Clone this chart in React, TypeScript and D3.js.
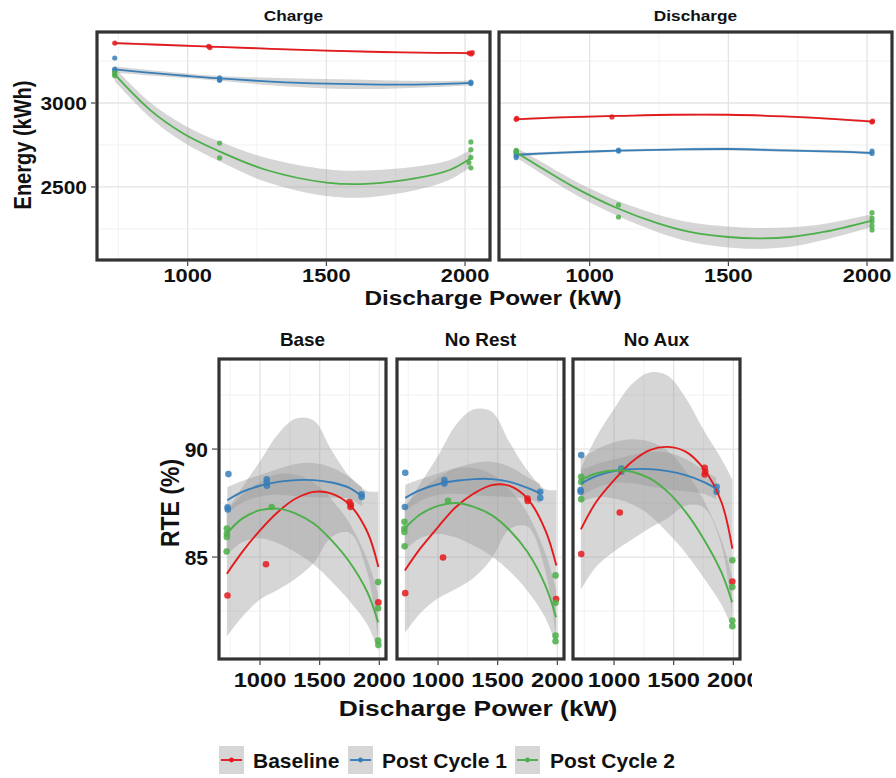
import React from "react";
import * as d3 from "d3";

const FONT = "'Liberation Sans', Arial, Helvetica, sans-serif";

type Pt = [number, number];

const seriesNames = ["Baseline", "Post Cycle 1", "Post Cycle 2"];
const seriesColors = ["#E41A1C", "#377EB8", "#4DAF4A"];

const energyFacets = ["Charge", "Discharge"];
const energyMajor = [2500, 3000];
const energyMinor = [2250, 2750, 3250];
const powerMajor = [1000, 1500, 2000];
const powerMinor = [750, 1250, 1750];
const rteFacets = ["Base", "No Rest", "No Aux"];
const rteMajor = [85, 90];
const rteMinor = [82.5, 87.5, 92.5];

// ---------- Energy: Charge ----------
const chargeBaselineObs: Pt[] = [[737, 3357], [1076, 3338], [1080, 3330], [2015, 3298], [2022, 3292], [2026, 3300]];
const chargeBaselineFitX = [737, 900, 1100, 1300, 1500, 1700, 1900, 2026];
const chargeBaselineFitY = [3357, 3347, 3335, 3323, 3312, 3304, 3299, 3297];
const chargeBaselineSE = [8, 6, 5, 5, 5, 5, 5, 7];

const chargeCycle1Obs: Pt[] = [[737, 3268], [737, 3202], [737, 3194], [1115, 3150], [1115, 3140], [1115, 3135], [2021, 3124], [2021, 3116]];
const chargeCycle1FitX = [737, 900, 1100, 1300, 1500, 1700, 1900, 2021];
const chargeCycle1FitY = [3200, 3175, 3148, 3128, 3115, 3110, 3113, 3120];
const chargeCycle1SE = [18, 16, 14, 22, 28, 26, 18, 14];

const chargeCycle2Obs: Pt[] = [[737, 3182], [737, 3172], [737, 3162], [1115, 2762], [1115, 2673], [2021, 2768], [2021, 2722], [2021, 2676], [2014, 2645], [2021, 2614]];
const chargeCycle2FitX = [737, 865, 984, 1104, 1284, 1500, 1644, 1824, 1944, 2021];
const chargeCycle2FitY = [3170, 2958, 2819, 2720, 2601, 2526, 2518, 2552, 2601, 2671];
const chargeCycle2SE = [40, 45, 52, 58, 72, 80, 80, 70, 58, 50];

// ---------- Energy: Discharge ----------
const dischargeBaselineObs: Pt[] = [[735, 2903], [737, 2908], [1080, 2917], [2018, 2887], [2020, 2893]];
const dischargeBaselineFitX = [735, 900, 1100, 1300, 1500, 1700, 1900, 2020];
const dischargeBaselineFitY = [2903, 2915, 2923, 2930, 2930, 2920, 2903, 2889];
const dischargeBaselineSE = [7, 6, 5, 5, 5, 5, 6, 8];

const dischargeCycle1Obs: Pt[] = [[735, 2712], [735, 2700], [735, 2688], [735, 2675], [1104, 2714], [1104, 2720], [2018, 2714], [2018, 2700]];
const dischargeCycle1FitX = [735, 900, 1100, 1300, 1500, 1700, 1900, 2018];
const dischargeCycle1FitY = [2692, 2705, 2716, 2723, 2726, 2718, 2710, 2702];
const dischargeCycle1SE = [10, 8, 7, 8, 9, 8, 8, 10];

const dischargeCycle2Obs: Pt[] = [[735, 2718], [735, 2708], [1104, 2393], [1104, 2321], [2018, 2347], [2018, 2314], [2018, 2294], [2018, 2268], [2018, 2244]];
const dischargeCycle2FitX = [735, 819, 940, 1100, 1241, 1361, 1500, 1602, 1723, 1843, 2018];
const dischargeCycle2FitY = [2705, 2621, 2502, 2373, 2286, 2232, 2202, 2194, 2202, 2232, 2300];
const dischargeCycle2SE = [30, 35, 40, 45, 52, 58, 62, 62, 58, 48, 38];

// ---------- RTE fits: shared sample positions ----------
const rteBaselineFitX = [722, 850, 1000, 1150, 1300, 1450, 1600, 1750, 1900, 1992];
const rteCycle1FitX = [725, 850, 1000, 1150, 1300, 1450, 1600, 1750, 1856];
const rteCycle2FitX = [720, 850, 1000, 1150, 1300, 1450, 1600, 1750, 1900, 1990];

// Base
const baseBaselineObs: Pt[] = [[727, 83.22], [1050, 84.67], [1750, 87.55], [1758, 87.32], [1762, 87.42], [1992, 82.9]];
const baseBaselineFit = [84.23, 85.23, 86.24, 87.09, 87.71, 88.02, 87.94, 87.43, 86.16, 84.54];
const baseBaselineSE = [2.9, 3.0, 3.2, 3.6, 3.7, 3.3, 2.0, 1.3, 1.9, 3.5];
const baseCycle1Obs: Pt[] = [[735, 88.84], [728, 87.3], [730, 87.2], [1056, 88.6], [1056, 88.45], [1058, 88.3], [1852, 87.9], [1852, 87.78]];
const baseCycle1Fit = [87.63, 88.02, 88.3, 88.48, 88.56, 88.56, 88.45, 88.2, 87.79];
const baseCycle1SE = [0.6, 0.5, 0.5, 0.6, 0.75, 0.8, 0.7, 0.5, 0.45];
const baseCycle2Obs: Pt[] = [[722, 86.32], [722, 86.08], [722, 85.93], [720, 85.26], [1098, 87.32], [1990, 83.84], [1990, 82.63], [1990, 81.13], [1992, 80.93]];
const baseCycle2Fit = [86.08, 86.78, 87.17, 87.24, 87.01, 86.55, 85.77, 84.77, 83.37, 81.98];
const baseCycle2SE = [1.0, 1.1, 1.3, 1.6, 1.8, 1.9, 1.9, 1.8, 1.5, 1.3];

// No Rest
const noRestBaselineObs: Pt[] = [[725, 83.33], [1042, 84.98], [1750, 87.71], [1752, 87.6], [1990, 83.06]];
const noRestBaselineFit = [84.38, 85.39, 86.39, 87.32, 87.94, 88.33, 88.3, 87.71, 86.24, 84.61];
const noRestBaselineSE = [2.9, 3.0, 3.3, 3.8, 3.9, 3.4, 2.0, 1.3, 1.9, 3.5];
const noRestCycle1Obs: Pt[] = [[725, 88.9], [722, 87.32], [1053, 88.56], [1053, 88.4], [1857, 88.02], [1857, 87.74]];
const noRestCycle1Fit = [87.74, 88.1, 88.37, 88.53, 88.61, 88.61, 88.48, 88.2, 87.94];
const noRestCycle1SE = [0.6, 0.5, 0.5, 0.6, 0.75, 0.8, 0.7, 0.5, 0.45];
const noRestCycle2Obs: Pt[] = [[718, 86.63], [718, 86.32], [718, 86.16], [720, 85.5], [1084, 87.6], [1985, 84.15], [1985, 82.88], [1985, 81.36], [1985, 81.1]];
const noRestCycle2Fit = [86.32, 86.97, 87.37, 87.5, 87.32, 86.94, 86.24, 85.23, 83.68, 82.21];
const noRestCycle2SE = [1.0, 1.1, 1.3, 1.6, 1.8, 1.9, 1.9, 1.8, 1.5, 1.3];

// No Aux
const noAuxBaselineObs: Pt[] = [[725, 85.14], [1048, 87.06], [1760, 89.13], [1760, 88.82], [1765, 88.95], [1992, 83.87]];
const noAuxBaselineFit = [86.28, 87.55, 88.56, 89.41, 89.95, 90.1, 89.88, 89.1, 87.55, 85.39];
const noAuxBaselineSE = [2.8, 3.0, 3.3, 3.6, 3.6, 3.3, 2.5, 1.8, 2.0, 3.2];
const noAuxCycle1Obs: Pt[] = [[725, 89.72], [720, 88.1], [720, 88.02], [1061, 88.95], [1061, 89.1], [1860, 88.25], [1860, 88.02]];
const noAuxCycle1Fit = [88.41, 88.75, 88.98, 89.07, 89.07, 88.98, 88.79, 88.48, 88.17];
const noAuxCycle1SE = [0.6, 0.55, 0.55, 0.65, 0.8, 0.85, 0.75, 0.55, 0.5];
const noAuxCycle2Obs: Pt[] = [[725, 88.72], [725, 88.48], [725, 87.68], [1065, 89.02], [1992, 84.85], [1992, 83.61], [1992, 82.06], [1992, 81.8]];
const noAuxCycle2Fit = [88.56, 88.87, 89.01, 88.95, 88.64, 88.02, 87.09, 85.85, 84.3, 82.91];
const noAuxCycle2SE = [1.0, 1.1, 1.3, 1.5, 1.7, 1.9, 1.9, 1.8, 1.5, 1.2];

interface Series { obs: Pt[]; fx: number[]; fy: number[]; se: number[]; }

const energySeries: Series[][] = [
  [
    { obs: chargeBaselineObs, fx: chargeBaselineFitX, fy: chargeBaselineFitY, se: chargeBaselineSE },
    { obs: chargeCycle1Obs, fx: chargeCycle1FitX, fy: chargeCycle1FitY, se: chargeCycle1SE },
    { obs: chargeCycle2Obs, fx: chargeCycle2FitX, fy: chargeCycle2FitY, se: chargeCycle2SE },
  ],
  [
    { obs: dischargeBaselineObs, fx: dischargeBaselineFitX, fy: dischargeBaselineFitY, se: dischargeBaselineSE },
    { obs: dischargeCycle1Obs, fx: dischargeCycle1FitX, fy: dischargeCycle1FitY, se: dischargeCycle1SE },
    { obs: dischargeCycle2Obs, fx: dischargeCycle2FitX, fy: dischargeCycle2FitY, se: dischargeCycle2SE },
  ],
];

const rteSeries: Series[][] = [
  [
    { obs: baseBaselineObs, fx: rteBaselineFitX, fy: baseBaselineFit, se: baseBaselineSE },
    { obs: baseCycle1Obs, fx: rteCycle1FitX, fy: baseCycle1Fit, se: baseCycle1SE },
    { obs: baseCycle2Obs, fx: rteCycle2FitX, fy: baseCycle2Fit, se: baseCycle2SE },
  ],
  [
    { obs: noRestBaselineObs, fx: rteBaselineFitX, fy: noRestBaselineFit, se: noRestBaselineSE },
    { obs: noRestCycle1Obs, fx: rteCycle1FitX, fy: noRestCycle1Fit, se: noRestCycle1SE },
    { obs: noRestCycle2Obs, fx: rteCycle2FitX, fy: noRestCycle2Fit, se: noRestCycle2SE },
  ],
  [
    { obs: noAuxBaselineObs, fx: rteBaselineFitX, fy: noAuxBaselineFit, se: noAuxBaselineSE },
    { obs: noAuxCycle1Obs, fx: rteCycle1FitX, fy: noAuxCycle1Fit, se: noAuxCycle1SE },
    { obs: noAuxCycle2Obs, fx: rteCycle2FitX, fy: noAuxCycle2Fit, se: noAuxCycle2SE },
  ],
];

function Txt(props: { x: number; y: number; size: number; anchor?: string; sx?: number; rotate?: number; children: any }) {
  const { x, y, size, anchor = "middle", sx = 1, rotate = 0, children } = props;
  return (
    <text
      transform={`translate(${x},${y}) scale(${sx},1)${rotate ? ` rotate(${rotate})` : ""}`}
      fontSize={size}
      fontWeight="bold"
      fontFamily={FONT}
      textAnchor={anchor as any}
      fill="#111111"
    >
      {children}
    </text>
  );
}

interface PanelProps {
  id: string;
  x0: number; y0: number; w: number; h: number;
  xDomain: [number, number]; yDomain: [number, number];
  xMajor: number[]; xMinor: number[]; yMajor: number[]; yMinor: number[];
  series: Series[]; r: number; lw: number;
}

function Panel(p: PanelProps) {
  const xs = d3.scaleLinear().domain(p.xDomain).range([p.x0, p.x0 + p.w]);
  const ys = d3.scaleLinear().domain(p.yDomain).range([p.y0 + p.h, p.y0]);
  const curve = d3.curveCatmullRom.alpha(0.5);
  return (
    <g>
      <defs>
        <clipPath id={p.id}>
          <rect x={p.x0} y={p.y0} width={p.w} height={p.h} />
        </clipPath>
      </defs>
      <rect x={p.x0} y={p.y0} width={p.w} height={p.h} fill="#ffffff" />
      <g clipPath={`url(#${p.id})`}>
        {p.xMinor.map((v) => (
          <line key={"xm" + v} x1={xs(v)} x2={xs(v)} y1={p.y0} y2={p.y0 + p.h} stroke="#f0f0f0" strokeWidth={0.9} />
        ))}
        {p.yMinor.map((v) => (
          <line key={"ym" + v} x1={p.x0} x2={p.x0 + p.w} y1={ys(v)} y2={ys(v)} stroke="#f0f0f0" strokeWidth={0.9} />
        ))}
        {p.xMajor.map((v) => (
          <line key={"xM" + v} x1={xs(v)} x2={xs(v)} y1={p.y0} y2={p.y0 + p.h} stroke="#e4e4e4" strokeWidth={1.3} />
        ))}
        {p.yMajor.map((v) => (
          <line key={"yM" + v} x1={p.x0} x2={p.x0 + p.w} y1={ys(v)} y2={ys(v)} stroke="#e4e4e4" strokeWidth={1.3} />
        ))}
        {p.series.map((s, i) => {
          const idx = s.fx.map((_, k) => k);
          const area = d3
            .area<number>()
            .x((k) => xs(s.fx[k]))
            .y0((k) => ys(s.fy[k] - s.se[k]))
            .y1((k) => ys(s.fy[k] + s.se[k]))
            .curve(curve);
          return <path key={"b" + i} d={area(idx) || ""} fill="#999999" fillOpacity={0.4} stroke="none" />;
        })}
        {p.series.map((s, i) =>
          s.obs.map((o, k) => (
            <circle key={"p" + i + "-" + k} cx={xs(o[0])} cy={ys(o[1])} r={p.r} fill={seriesColors[i]} fillOpacity={0.85} />
          ))
        )}
        {p.series.map((s, i) => {
          const idx = s.fx.map((_, k) => k);
          const line = d3
            .line<number>()
            .x((k) => xs(s.fx[k]))
            .y((k) => ys(s.fy[k]))
            .curve(curve);
          return <path key={"l" + i} d={line(idx) || ""} fill="none" stroke={seriesColors[i]} strokeWidth={p.lw} />;
        })}
      </g>
      <rect x={p.x0} y={p.y0} width={p.w} height={p.h} fill="none" stroke="#333333" strokeWidth={3.2} />
      {p.xMajor.map((v) => (
        <line key={"xt" + v} x1={xs(v)} x2={xs(v)} y1={p.y0 + p.h + 1.6} y2={p.y0 + p.h + 6} stroke="#333333" strokeWidth={1.1} />
      ))}
    </g>
  );
}

export default function App() {
  // top energy layout
  const topX = [97, 499];
  const topW = 393;
  const topY0 = 32;
  const topH = 228;
  const topXDom: [number, number] = [673, 2090];
  const topYDom: [number, number] = [2065, 3423];
  const topYs = d3.scaleLinear().domain(topYDom).range([topY0 + topH, topY0]);

  // bottom RTE layout
  const botX = [219, 397, 573];
  const botW = 167;
  const botY0 = 359;
  const botH = 300;
  const botXDom: [number, number] = [656, 2056];
  const botYDom: [number, number] = [80.28, 94.17];
  const botYs = d3.scaleLinear().domain(botYDom).range([botY0 + botH, botY0]);

  const legendKeyX = [219, 348, 515];
  const legendTextX = [253, 382, 550];

  return (
    <svg width={896} height={778} style={{ position: "absolute", left: 0, top: 0, display: "block", background: "#ffffff" }}>
      <rect x={0} y={0} width={896} height={778} fill="#ffffff" />
      <defs>
        <clipPath id="botclip">
          <rect x={0} y={300} width={752} height={478} />
        </clipPath>
      </defs>

      {/* ---------- Energy chart ---------- */}
      {energyFacets.map((f, i) => {
        const xs = d3.scaleLinear().domain(topXDom).range([topX[i], topX[i] + topW]);
        return (
          <g key={f}>
            <Panel
              id={"ep" + i}
              x0={topX[i]} y0={topY0} w={topW} h={topH}
              xDomain={topXDom} yDomain={topYDom}
              xMajor={powerMajor} xMinor={powerMinor} yMajor={energyMajor} yMinor={energyMinor}
              series={energySeries[i]} r={2.6} lw={1.8}
            />
            <Txt x={topX[i] + topW / 2} y={21} size={15} sx={1.15}>{f}</Txt>
            {powerMajor.map((v) => (
              <Txt key={v} x={xs(v)} y={282} size={19} sx={1.15}>{String(v)}</Txt>
            ))}
          </g>
        );
      })}
      {energyMajor.map((v) => (
        <g key={"ey" + v}>
          <line x1={91} x2={95.5} y1={topYs(v)} y2={topYs(v)} stroke="#333333" strokeWidth={1.1} />
          <Txt x={87} y={topYs(v) + 7} size={19} anchor="end" sx={1.1}>{String(v)}</Txt>
        </g>
      ))}
      <Txt x={493} y={305} size={19.5} sx={1.25}>Discharge Power (kW)</Txt>
      <Txt x={31} y={145} size={20} sx={1.15} rotate={-90}>Energy (kWh)</Txt>

      {/* ---------- RTE chart ---------- */}
      <g clipPath="url(#botclip)">
        {rteFacets.map((f, i) => {
          const xs = d3.scaleLinear().domain(botXDom).range([botX[i], botX[i] + botW]);
          return (
            <g key={f}>
              <Panel
                id={"rp" + i}
                x0={botX[i]} y0={botY0} w={botW} h={botH}
                xDomain={botXDom} yDomain={botYDom}
                xMajor={powerMajor} xMinor={powerMinor} yMajor={rteMajor} yMinor={rteMinor}
                series={rteSeries[i]} r={3.3} lw={1.9}
              />
              <Txt x={botX[i] + botW / 2} y={346} size={18} sx={1.05}>{f}</Txt>
              {powerMajor.map((v) => (
                <Txt key={v} x={xs(v)} y={687} size={21} sx={1.13}>{String(v)}</Txt>
              ))}
            </g>
          );
        })}
        {rteMajor.map((v) => (
          <g key={"ry" + v}>
            <line x1={212} x2={217.5} y1={botYs(v)} y2={botYs(v)} stroke="#333333" strokeWidth={1.1} />
            <Txt x={208} y={botYs(v) + 7.5} size={21} anchor="end" sx={1.0}>{String(v)}</Txt>
          </g>
        ))}
        <Txt x={478} y={716} size={22} sx={1.2}>Discharge Power (kW)</Txt>
        <Txt x={179} y={503} size={23} sx={1.12} rotate={-90}>RTE (%)</Txt>
      </g>

      {/* ---------- Legend ---------- */}
      {seriesNames.map((n, i) => (
        <g key={n}>
          <rect x={legendKeyX[i]} y={746} width={25} height={28} fill="#d6d6d6" />
          <line x1={legendKeyX[i] + 2} x2={legendKeyX[i] + 23} y1={760} y2={760} stroke={seriesColors[i]} strokeWidth={1.9} />
          <circle cx={legendKeyX[i] + 12.5} cy={760} r={2.4} fill={seriesColors[i]} />
          <Txt x={legendTextX[i]} y={768} size={21} anchor="start">{n}</Txt>
        </g>
      ))}
    </svg>
  );
}
